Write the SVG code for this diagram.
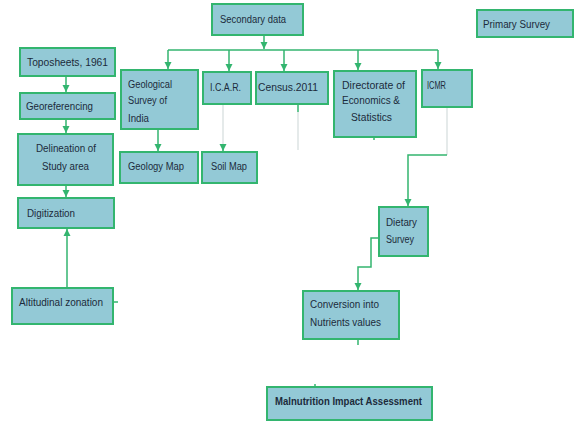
<svg xmlns="http://www.w3.org/2000/svg" width="576" height="421" viewBox="0 0 576 421">
<defs>
<style>
.box{fill:#93c9d6;stroke:#33b56f;stroke-width:2}
.t{font-family:"Liberation Sans",Arial,sans-serif;font-size:10px;fill:#1c2b3b}
.b{font-weight:bold}
.c{fill:none;stroke:#33b56f;stroke-width:1.5}
.f{fill:none;stroke:#d4dcdc;stroke-width:1.2}
</style>
<marker id="a" markerWidth="8" markerHeight="8" refX="7" refY="4" orient="auto" markerUnits="userSpaceOnUse">
<path d="M0,0.5 L7,4 L0,7.5 z" fill="#33b56f"/>
</marker>
</defs>
<rect width="576" height="421" fill="#ffffff"/>
<g id="connectors">
<path class="c" d="M264,36 V49" marker-end="url(#a)"/>
<path class="c" d="M168,50 H438"/>
<path class="c" d="M168,50 V69" marker-end="url(#a)"/>
<path class="c" d="M229,50 V71" marker-end="url(#a)"/>
<path class="c" d="M284,50 V71" marker-end="url(#a)"/>
<path class="c" d="M358,50 V70" marker-end="url(#a)"/>
<path class="c" d="M438,50 V69" marker-end="url(#a)"/>
<path class="c" d="M66,76 V92" marker-end="url(#a)"/>
<path class="c" d="M66,119 V133" marker-end="url(#a)"/>
<path class="c" d="M66,185 V197" marker-end="url(#a)"/>
<path class="c" d="M67,288 V229" marker-end="url(#a)"/>
<path class="c" d="M113,302 H118"/>
<path class="c" d="M158,129 V151" marker-end="url(#a)"/>
<path class="f" d="M223,104 V147"/>
<path class="c" d="M223,146 V151" marker-end="url(#a)"/>
<path class="c" d="M298,104 V112"/>
<path class="f" d="M298,112 V150"/>
<path class="c" d="M374,137 V140"/>
<path class="f" d="M447,107 V155"/>
<path class="c" d="M447,155 H408 V206" marker-end="url(#a)"/>
<path class="c" d="M379,238 H371 V267 H358 V290" marker-end="url(#a)"/>
<path class="c" d="M358,339 V345"/>
<path class="c" d="M315,384 V387"/>
</g>
<g id="secondary"><rect class="box" x="212" y="4" width="91" height="31"/><text class="t" x="220" y="23" textLength="66" lengthAdjust="spacingAndGlyphs">Secondary data</text></g>
<g id="primary"><rect class="box" x="477" y="10" width="96" height="27"/><text class="t" x="483" y="28" textLength="67" lengthAdjust="spacingAndGlyphs">Primary Survey</text></g>
<g id="toposheets"><rect class="box" x="20" y="48" width="95" height="28"/><text class="t" x="27" y="66" textLength="81" lengthAdjust="spacingAndGlyphs">Toposheets, 1961</text></g>
<g id="georef"><rect class="box" x="20" y="93" width="95" height="26"/><text class="t" x="26" y="110" textLength="67" lengthAdjust="spacingAndGlyphs">Georeferencing</text></g>
<g id="delineation"><rect class="box" x="18" y="134" width="95" height="51"/><text class="t" x="36" y="152" textLength="60" lengthAdjust="spacingAndGlyphs">Delineation of</text><text class="t" x="42" y="170" textLength="47" lengthAdjust="spacingAndGlyphs">Study area</text></g>
<g id="digitization"><rect class="box" x="18" y="198" width="96" height="30"/><text class="t" x="27" y="217" textLength="48" lengthAdjust="spacingAndGlyphs">Digitization</text></g>
<g id="altitudinal"><rect class="box" x="12" y="288" width="101" height="36"/><text class="t" x="19" y="306" textLength="84" lengthAdjust="spacingAndGlyphs">Altitudinal zonation</text></g>
<g id="gsi"><rect class="box" x="121" y="70" width="77" height="59"/><text class="t" x="128" y="88" textLength="44" lengthAdjust="spacingAndGlyphs">Geological</text><text class="t" x="128" y="104" textLength="39" lengthAdjust="spacingAndGlyphs">Survey of</text><text class="t" x="128" y="122" textLength="21" lengthAdjust="spacingAndGlyphs">India</text></g>
<g id="icar"><rect class="box" x="203" y="72" width="48" height="32"/><text class="t" x="210" y="91" textLength="31" lengthAdjust="spacingAndGlyphs">I.C.A.R.</text></g>
<g id="census"><rect class="box" x="256" y="72" width="72" height="32"/><text class="t" x="258" y="91" textLength="60" lengthAdjust="spacingAndGlyphs">Census.2011</text></g>
<g id="directorate"><rect class="box" x="334" y="71" width="82" height="66"/><text class="t" x="342" y="89" textLength="63" lengthAdjust="spacingAndGlyphs">Directorate of</text><text class="t" x="342" y="104" textLength="58" lengthAdjust="spacingAndGlyphs">Economics &amp;</text><text class="t" x="351" y="121" textLength="41" lengthAdjust="spacingAndGlyphs">Statistics</text></g>
<g id="icmr"><rect class="box" x="422" y="70" width="50" height="37"/><text class="t" x="427" y="89" textLength="19" lengthAdjust="spacingAndGlyphs">ICMR</text></g>
<g id="geology-map"><rect class="box" x="120" y="152" width="78" height="31"/><text class="t" x="128" y="170" textLength="56" lengthAdjust="spacingAndGlyphs">Geology Map</text></g>
<g id="soil-map"><rect class="box" x="202" y="152" width="55" height="31"/><text class="t" x="211" y="170" textLength="36" lengthAdjust="spacingAndGlyphs">Soil Map</text></g>
<g id="dietary"><rect class="box" x="379" y="207" width="49" height="49"/><text class="t" x="386" y="226" textLength="31" lengthAdjust="spacingAndGlyphs">Dietary</text><text class="t" x="386" y="243" textLength="28" lengthAdjust="spacingAndGlyphs">Survey</text></g>
<g id="conversion"><rect class="box" x="303" y="291" width="96" height="48"/><text class="t" x="310" y="308" textLength="69" lengthAdjust="spacingAndGlyphs">Conversion into</text><text class="t" x="310" y="326" textLength="71" lengthAdjust="spacingAndGlyphs">Nutrients values</text></g>
<g id="malnutrition"><rect class="box" x="267" y="387" width="165" height="33"/><text class="t b" x="275" y="405" textLength="147" lengthAdjust="spacingAndGlyphs">Malnutrition Impact Assessment</text></g>
</svg>
